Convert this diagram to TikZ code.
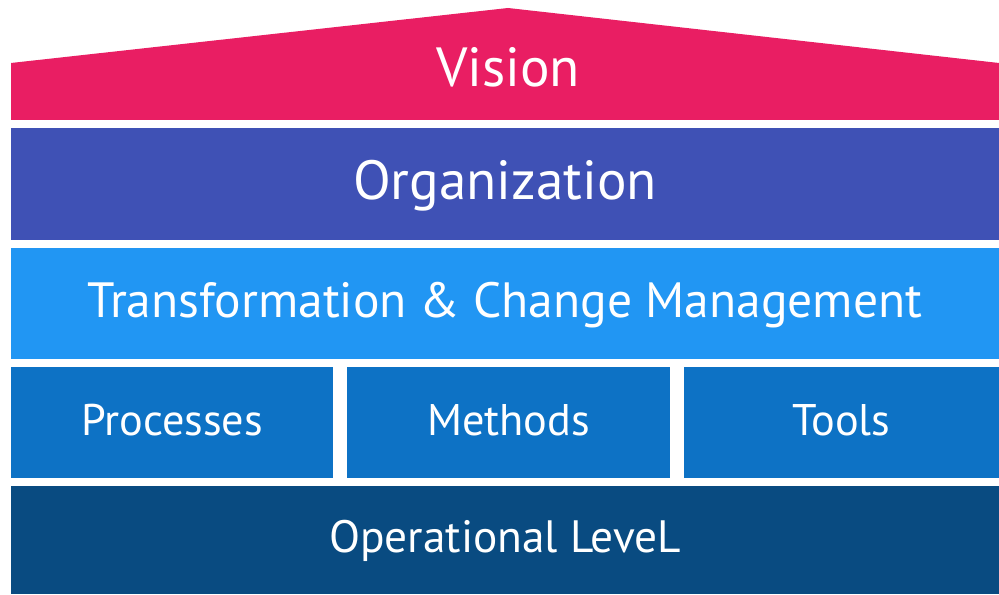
\documentclass[tikz,border=0pt]{standalone}
\usepackage{fontspec}
\setmainfont{PT Sans}
\definecolor{visioncol}{HTML}{E91E63}
\definecolor{orgcol}{HTML}{3F51B5}
\definecolor{transcol}{HTML}{2196F3}
\definecolor{pillarcol}{HTML}{0D72C5}
\definecolor{opcol}{HTML}{094B81}
\tikzset{
  layer/.style={fill=#1, text=white, inner sep=0pt},
  big/.style={font=\fontsize{15.7}{18}\selectfont, text height=11pt, text depth=2pt},
  mid/.style={font=\fontsize{14.1}{17}\selectfont, text height=9.9pt, text depth=2pt},
  small/.style={font=\fontsize{12.6}{15}\selectfont, text height=8.8pt, text depth=1.6pt}
}

\begin{document}
\begin{tikzpicture}
            \useasboundingbox (0,0) rectangle (9.99,5.95);
            \fill[visioncol] (0.11,4.75) -- (0.11,5.32) -- (5.08,5.87) -- (9.99,5.32) -- (9.99,4.75) -- cycle;
            \node[big, text=white, inner sep=0pt, text depth=0pt] at (5.08,5.28) (vision) {Vision};
            \node[layer=orgcol, big, minimum width=9.88cm, minimum height=1.12cm] at (5.05,4.11) (org) {Organization};
            \node[layer=transcol, mid, minimum width=9.88cm, minimum height=1.11cm] at (5.05,2.915) (trans) {Transformation \& Change Management};
            \node[layer=pillarcol, small, minimum width=3.22cm, minimum height=1.115cm] at (1.72,1.7225) (proc) {Processes};
            \node[layer=pillarcol, small, minimum width=3.23cm, minimum height=1.115cm] at (5.085,1.7225) (meth) {Methods};
            \node[layer=pillarcol, small, minimum width=3.15cm, minimum height=1.115cm] at (8.415,1.7225) (tools) {Tools};
            \node[layer=opcol, small, font=\fontsize{12.9}{15}\selectfont, minimum width=9.88cm, minimum height=1.08cm] at (5.05,0.55) (oper) {Operational LeveL};
        \end{tikzpicture}
\end{document}
